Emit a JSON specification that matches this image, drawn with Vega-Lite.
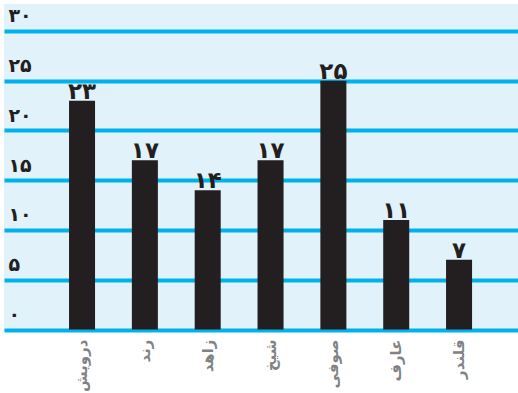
{
  "$schema": "https://vega.github.io/schema/vega-lite/v6.json",
  "width": 514,
  "height": 328,
  "autosize": "none",
  "padding": {"left": 4, "top": 4, "right": 0, "bottom": 61},
  "background": "#ffffff",
  "config": {
    "view": {"fill": "#e1f2fb", "stroke": null},
    "font": "DejaVu Sans"
  },
  "data": {
    "values": [
      {"name": "درویش", "value": 23, "label": "۲۳"},
      {"name": "رند", "value": 17, "label": "۱۷"},
      {"name": "زاهد", "value": 14, "label": "۱۴"},
      {"name": "شیخ", "value": 17, "label": "۱۷"},
      {"name": "صوفی", "value": 25, "label": "۲۵"},
      {"name": "عارف", "value": 11, "label": "۱۱"},
      {"name": "قلندر", "value": 7, "label": "۷"}
    ]
  },
  "encoding": {
    "x": {
      "field": "name",
      "type": "nominal",
      "sort": null,
      "scale": {"paddingInner": 0.586, "paddingOuter": 0.883, "align": 0.586},
      "axis": {
        "title": null,
        "domain": false,
        "ticks": false,
        "labelAngle": -90,
        "labelAlign": "right",
        "labelBaseline": "middle",
        "labelPadding": 7,
        "labelColor": "#808285",
        "labelFont": "DejaVu Sans",
        "labelFontWeight": "bold",
        "labelFontSize": 15
      }
    },
    "y": {
      "field": "value",
      "type": "quantitative",
      "scale": {"domain": [-0.25, 32.71], "nice": false, "zero": false},
      "axis": {
        "title": null,
        "domain": false,
        "ticks": false,
        "tickSize": 0,
        "values": [0, 5, 10, 15, 20, 25, 30],
        "labelExpr": "replace(replace(replace(replace(replace(datum.label,'0','۰'),'1','۱'),'2','۲'),'3','۳'),'5','۵')",
        "labelAlign": "left",
        "labelBaseline": "bottom",
        "labelOffset": -5,
        "labelPadding": -4,
        "labelFont": "DejaVu Sans",
        "labelFontWeight": "bold",
        "labelFontSize": 19,
        "labelColor": "#231f20",
        "grid": true,
        "gridColor": "#00b2ec",
        "gridWidth": 4
      }
    }
  },
  "layer": [
    {"mark": {"type": "bar", "color": "#231f20"}},
    {
      "mark": {
        "type": "text",
        "baseline": "alphabetic",
        "dy": -2,
        "font": "DejaVu Sans",
        "fontWeight": "bold",
        "fontSize": 23,
        "color": "#231f20"
      },
      "encoding": {"text": {"field": "label"}}
    }
  ]
}
